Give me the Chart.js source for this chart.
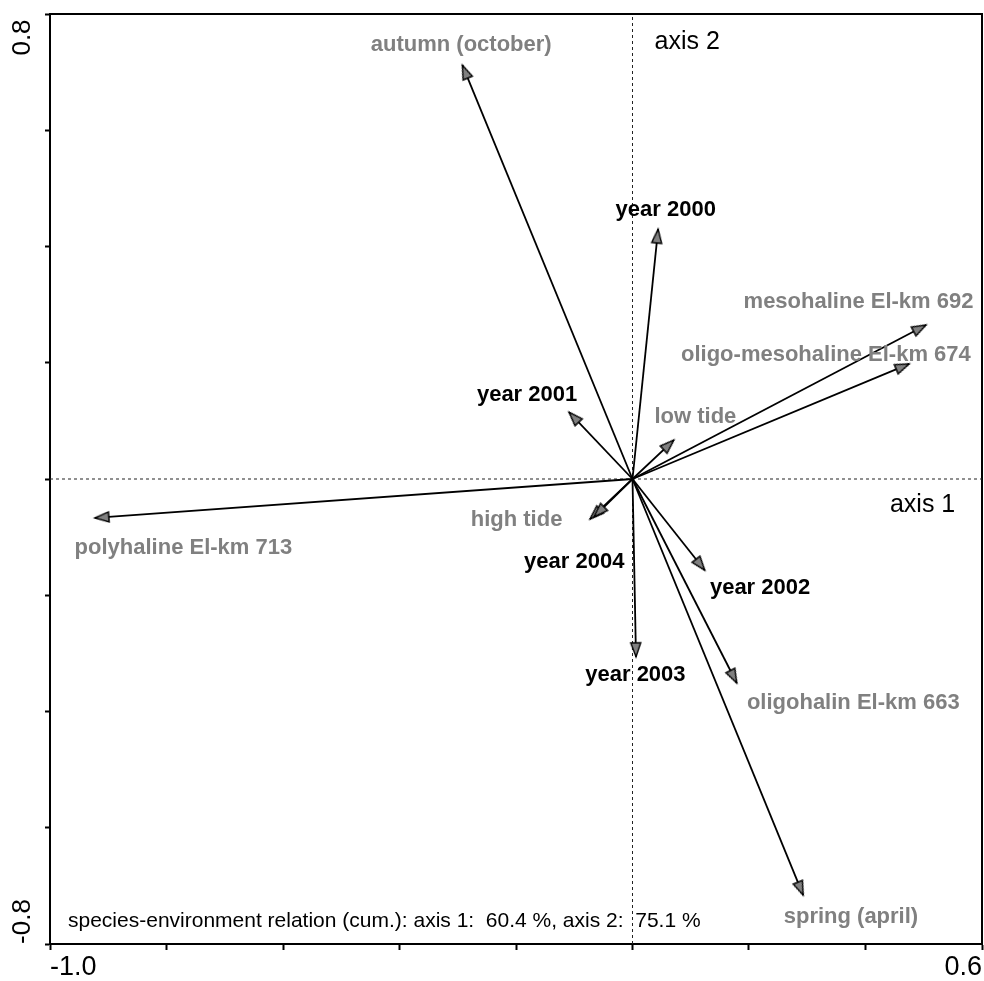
<!DOCTYPE html>
<html><head><meta charset="utf-8">
<script src="https://cdn.jsdelivr.net/npm/chart.js@4.4.0/dist/chart.umd.min.js"></script>
<style>html,body{margin:0;padding:0;background:#fff;overflow:hidden}</style>
</head><body><canvas id="c" width="984" height="981" style="display:block;width:984px;height:981px"></canvas>
<script>
// ---------- data ----------
const vectorNames = ['autumn (october)', 'spring (april)', 'year 2000', 'year 2001', 'year 2002', 'year 2003', 'year 2004',
  'mesohaline El-km 692', 'oligo-mesohaline El-km 674', 'polyhaline El-km 713', 'oligohalin El-km 663', 'low tide', 'high tide'];
const axis1Scores = [-0.292, 0.293, 0.044, -0.109, 0.124, 0.006, -0.066, 0.504, 0.475, -0.923, 0.179, 0.071, -0.073];
const axis2Scores = [0.712, -0.716, 0.430, 0.115, -0.157, -0.306, -0.065, 0.265, 0.198, -0.067, -0.351, 0.067, -0.069];
const xTickRange = [-1.0, 0.6];
const yTickRange = [-0.8, 0.8];
const tickStep = 0.2;
const axisTitles = ['axis 1', 'axis 2'];
const noteText = 'species-environment relation (cum.): axis 1:  60.4 %, axis 2:  75.1 %';
const yearVars = ['year 2000', 'year 2001', 'year 2002', 'year 2003', 'year 2004'];

// ---------- layout (label centres in data units) ----------
const labelAt = {
  'autumn (october)': [-0.294, 0.747],
  'spring (april)': [0.375, -0.754],
  'year 2000': [0.057, 0.463],
  'year 2001': [-0.181, 0.145],
  'year 2002': [0.219, -0.188],
  'year 2003': [0.005, -0.337],
  'year 2004': [-0.100, -0.143],
  'mesohaline El-km 692': [0.388, 0.305],
  'oligo-mesohaline El-km 674': [0.332, 0.213],
  'polyhaline El-km 713': [-0.771, -0.119],
  'oligohalin El-km 663': [0.379, -0.386],
  'low tide': [0.108, 0.107],
  'high tide': [-0.199, -0.071]
};
const axisTitleAt = [[0.498, -0.045], [0.094, 0.752]];

const FONT = '"Liberation Sans", Arial, sans-serif';
const GRAY = '#808080';

// arrowhead image, tip at centre, pointing up
const arrowImg = (() => {
  const c = document.createElement('canvas'); c.width = 36; c.height = 36;
  const g = c.getContext('2d');
  g.beginPath(); g.moveTo(18, 18); g.lineTo(13, 32); g.lineTo(23, 32); g.closePath();
  g.fillStyle = GRAY; g.fill(); g.lineWidth = 1.4; g.strokeStyle = '#000'; g.lineJoin = 'miter'; g.stroke();
  return c;
})();

function arrowRotation(ctx) {
  if (ctx.type !== 'data') return 0;
  const i = ctx.datasetIndex;
  const ch = ctx.chart, xs = ch.scales.x, ys = ch.scales.y;
  if (!xs || !ys) return 0;
  const dx = xs.getPixelForValue(axis1Scores[i]) - xs.getPixelForValue(0);
  const dy = ys.getPixelForValue(axis2Scores[i]) - ys.getPixelForValue(0);
  return Math.atan2(dx, -dy) * 180 / Math.PI;
}

const datasets = vectorNames.map((n, i) => ({
  label: n,
  data: [{x: 0, y: 0}, {x: axis1Scores[i], y: axis2Scores[i]}],
  showLine: true,
  borderColor: '#000',
  borderWidth: 1.8,
  pointStyle: arrowImg,
  pointRadius: [0, 0.5],
  pointHoverRadius: [0, 0.5],
  pointBorderWidth: 0,
  pointHitRadius: 0,
  rotation: arrowRotation,
  order: 1
}));
datasets.push({
  label: 'zero-x', data: [{x: xTickRange[0], y: 0}, {x: xTickRange[1], y: 0}], showLine: true,
  borderColor: '#222', borderWidth: 1, borderDash: [3, 3], pointRadius: 0, pointHitRadius: 0, order: 5
});
datasets.push({
  label: 'zero-y', data: [{x: 0, y: yTickRange[0]}, {x: 0, y: yTickRange[1]}], showLine: true,
  borderColor: '#222', borderWidth: 1, borderDash: [3, 3], pointRadius: 0, pointHitRadius: 0, order: 5
});

const textPlugin = {
  id: 'texts',
  afterDatasetsDraw(chart) {
    const {ctx, chartArea: a, scales: {x, y}} = chart;
    ctx.save();
    ctx.textAlign = 'center'; ctx.textBaseline = 'middle';
    ctx.font = 'bold 22px ' + FONT;
    vectorNames.forEach(n => {
      const p = labelAt[n];
      ctx.fillStyle = yearVars.includes(n) ? '#000' : GRAY;
      ctx.fillText(n, x.getPixelForValue(p[0]), y.getPixelForValue(p[1]));
    });
    ctx.font = '25px ' + FONT; ctx.fillStyle = '#000';
    axisTitles.forEach((t, i) => {
      ctx.fillText(t, x.getPixelForValue(axisTitleAt[i][0]), y.getPixelForValue(axisTitleAt[i][1]));
    });
    ctx.font = '21px ' + FONT; ctx.textAlign = 'left'; ctx.textBaseline = 'alphabetic';
    ctx.fillText(noteText, a.left + 18, a.bottom - 17);
    // y-axis end labels (rotated)
    ctx.font = '26px ' + FONT; ctx.textAlign = 'center'; ctx.textBaseline = 'middle';
    [[yTickRange[1], 23.5], [yTickRange[0], -22.5]].forEach(([v, off]) => {
      ctx.save();
      ctx.translate(22.5, y.getPixelForValue(v) + off);
      ctx.rotate(-Math.PI / 2);
      ctx.fillText(v.toFixed(1), 0, 0);
      ctx.restore();
    });
    ctx.restore();
  }
};

new Chart(document.getElementById('c'), {
  type: 'scatter',
  data: {datasets},
  options: {
    responsive: false, animation: false,
    layout: {padding: {top: 14, right: 2, left: 0, bottom: 0}},
    plugins: {legend: {display: false}, tooltip: {enabled: false}},
    events: [],
    scales: {
      x: {
        type: 'linear', position: 'bottom', min: xTickRange[0], max: xTickRange[1],
        afterFit: s => { s.height = 37; s.paddingLeft = 0; s.paddingRight = 0; },
        ticks: {stepSize: tickStep, align: 'inner', autoSkip: false, maxRotation: 0, minRotation: 0, padding: 1,
          color: '#000', font: {family: FONT, size: 27},
          callback: (v, i, t) => (i === 0 || i === t.length - 1) ? Number(v).toFixed(1) : ''},
        grid: {drawOnChartArea: false, drawTicks: true, tickLength: 6, tickColor: '#000', tickWidth: 2},
        border: {display: true, color: '#000', width: 2}
      },
      y: {
        type: 'linear', position: 'left', min: yTickRange[0], max: yTickRange[1],
        afterFit: s => { s.width = 50; s.paddingTop = 0; s.paddingBottom = 0; },
        ticks: {stepSize: tickStep, autoSkip: false, callback: () => ''},
        grid: {drawOnChartArea: false, drawTicks: true, tickLength: 5, tickColor: '#000', tickWidth: 2},
        border: {display: true, color: '#000', width: 2}
      },
      x2: {
        type: 'linear', axis: 'x', position: 'top', min: xTickRange[0], max: xTickRange[1],
        afterFit: s => { s.height = 0; s.paddingLeft = 0; s.paddingRight = 0; },
        ticks: {display: false},
        grid: {drawOnChartArea: false, drawTicks: false},
        border: {display: true, color: '#000', width: 2}
      },
      y2: {
        type: 'linear', axis: 'y', position: 'right', min: yTickRange[0], max: yTickRange[1],
        afterFit: s => { s.width = 0; s.paddingTop = 0; s.paddingBottom = 0; },
        ticks: {display: false},
        grid: {drawOnChartArea: false, drawTicks: false},
        border: {display: true, color: '#000', width: 2}
      }
    }
  },
  plugins: [textPlugin]
});
</script>
</body></html>
